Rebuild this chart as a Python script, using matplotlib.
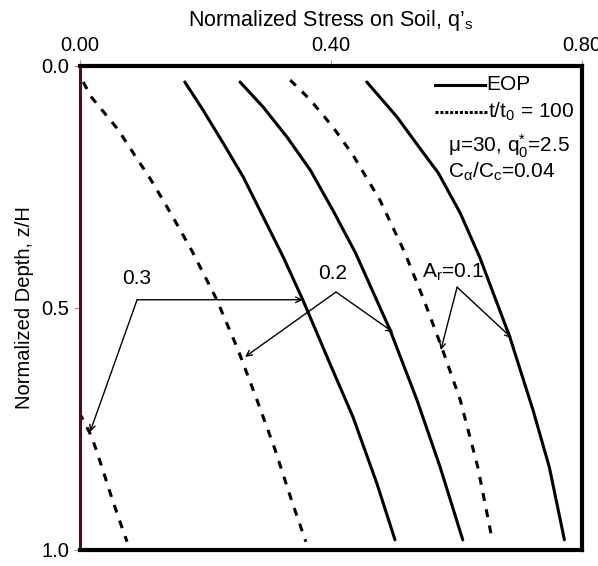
import matplotlib
matplotlib.use("Agg")
import matplotlib.pyplot as plt
from matplotlib.lines import Line2D

plt.rcParams['font.family'] = ['Liberation Sans', 'DejaVu Sans']
plt.rcParams['mathtext.fontset'] = 'custom'
plt.rcParams['mathtext.rm'] = 'Liberation Sans'
plt.rcParams['mathtext.it'] = 'Liberation Sans'
plt.rcParams['mathtext.sf'] = 'Liberation Sans'

# EOP curves (solid): normalized stress q's vs normalized depth z/H
z_eop_03 = [0.033, 0.091, 0.159, 0.229, 0.312, 0.395, 0.483, 0.614, 0.725, 0.862, 0.979]
q_eop_03 = [0.167, 0.196, 0.228, 0.260, 0.292, 0.324, 0.355, 0.398, 0.435, 0.473, 0.502]
z_eop_02 = [0.033, 0.085, 0.147, 0.215, 0.298, 0.386, 0.545, 0.690, 0.829, 0.979]
q_eop_02 = [0.255, 0.292, 0.330, 0.367, 0.403, 0.439, 0.494, 0.537, 0.574, 0.610]
z_eop_01 = [0.033, 0.105, 0.167, 0.221, 0.304, 0.395, 0.560, 0.711, 0.829, 0.979]
q_eop_01 = [0.457, 0.505, 0.540, 0.571, 0.606, 0.637, 0.685, 0.722, 0.748, 0.772]

# t/t0 = 100 curves (dashed)
z_100_03 = [0.0, 0.72, 0.731, 0.767, 0.829, 0.882, 0.932, 0.983]
q_100_03 = [0.0, 0.0, 0.005, 0.019, 0.035, 0.048, 0.061, 0.075]
z_100_02 = [0.033, 0.064, 0.132, 0.188, 0.231, 0.283, 0.335, 0.386, 0.483, 0.587, 0.690, 0.793, 0.897, 0.983]
q_100_02 = [0.005, 0.018, 0.061, 0.089, 0.111, 0.135, 0.158, 0.180, 0.218, 0.252, 0.282, 0.311, 0.337, 0.360]
z_100_01 = [0.029, 0.070, 0.126, 0.184, 0.277, 0.384, 0.483, 0.587, 0.690, 0.829, 0.979]
q_100_01 = [0.335, 0.367, 0.403, 0.435, 0.478, 0.517, 0.548, 0.578, 0.606, 0.634, 0.657]

x_ticks = [0.0, 0.4, 0.8]
x_ticklabels = ['0.00', '0.40', '0.80']
y_ticks = [0.0, 0.5, 1.0]
y_ticklabels = ['0.0', '0.5', '1.0']

fig = plt.figure(figsize=(5.98, 5.66), dpi=100)
ax = fig.add_axes([0.1338, 0.0283, 0.8394, 0.8551])

lw = 2.2
dash = (0, (2.6, 2.8))
ax.plot(q_eop_03, z_eop_03, color='black', lw=lw, solid_capstyle='round')
ax.plot(q_eop_02, z_eop_02, color='black', lw=lw, solid_capstyle='round')
ax.plot(q_eop_01, z_eop_01, color='black', lw=lw, solid_capstyle='round')
ax.plot(q_100_03, z_100_03, color='black', lw=lw, linestyle=dash)
ax.plot(q_100_02, z_100_02, color='black', lw=lw, linestyle=dash)
ax.plot(q_100_01, z_100_01, color='black', lw=lw, linestyle=dash)

ax.set_xlim(0, 0.8)
ax.set_ylim(1.0, 0.0)
ax.xaxis.tick_top()
ax.xaxis.set_label_position('top')
ax.set_xticks(x_ticks)
ax.set_xticklabels(x_ticklabels)
ax.set_yticks(y_ticks)
ax.set_yticklabels(y_ticklabels)
ax.tick_params(axis='both', direction='out', length=4, width=0.8, color='#999999',
               labelsize=14.5, pad=4)
ax.set_xlabel('Normalized Stress on Soil, q’$_\\mathregular{s}$', fontsize=15.5, labelpad=7)
ax.set_ylabel('Normalized Depth, z/H', fontsize=14.5, labelpad=5)

for side in ['top', 'right', 'bottom']:
    ax.spines[side].set_linewidth(3)
    ax.spines[side].set_color('black')
ax.spines['left'].set_linewidth(2.2)
ax.spines['left'].set_color('#4a1016')

fs = 15
# legend-like key
ax.add_line(Line2D([0.565, 0.645], [0.039, 0.039], color='black', lw=lw))
ax.text(0.647, 0.039, 'EOP', fontsize=fs, va='center', ha='left')
ax.add_line(Line2D([0.565, 0.648], [0.095, 0.095], color='black', lw=2.2, linestyle=(0, (1, 0.6))))
ax.text(0.650, 0.095, 't/t$_\\mathregular{0}$ = 100', fontsize=fs, va='center', ha='left')
ax.text(0.587, 0.165, 'μ=30, q$^\\mathregular{*}_\\mathregular{0}$=2.5', fontsize=fs, va='center', ha='left')
ax.text(0.587, 0.218, 'C$_\\alpha$/C$_\\mathregular{c}$=0.04', fontsize=fs, va='center', ha='left')

arrow = dict(arrowstyle='->', color='black', lw=1.0, shrinkA=0, shrinkB=0)

# A_r = 0.3
ax.annotate('', xy=(0.355, 0.483), xytext=(0.091, 0.483), arrowprops=arrow)
ax.annotate('', xy=(0.016, 0.756), xytext=(0.091, 0.483), arrowprops=arrow)
ax.text(0.091, 0.44, '0.3', fontsize=fs, ha='center', va='center')

# A_r = 0.2
ax.annotate('', xy=(0.499, 0.550), xytext=(0.408, 0.467), arrowprops=arrow)
ax.annotate('', xy=(0.263, 0.601), xytext=(0.408, 0.467), arrowprops=arrow)
ax.text(0.403, 0.428, '0.2', fontsize=fs, ha='center', va='center')

# A_r = 0.1
ax.annotate('', xy=(0.688, 0.562), xytext=(0.601, 0.457), arrowprops=arrow)
ax.annotate('', xy=(0.575, 0.587), xytext=(0.601, 0.457), arrowprops=arrow)
ax.text(0.545, 0.426, 'A$_\\mathregular{r}$=0.1', fontsize=fs, ha='left', va='center')

fig.savefig('out.png', dpi=100)
